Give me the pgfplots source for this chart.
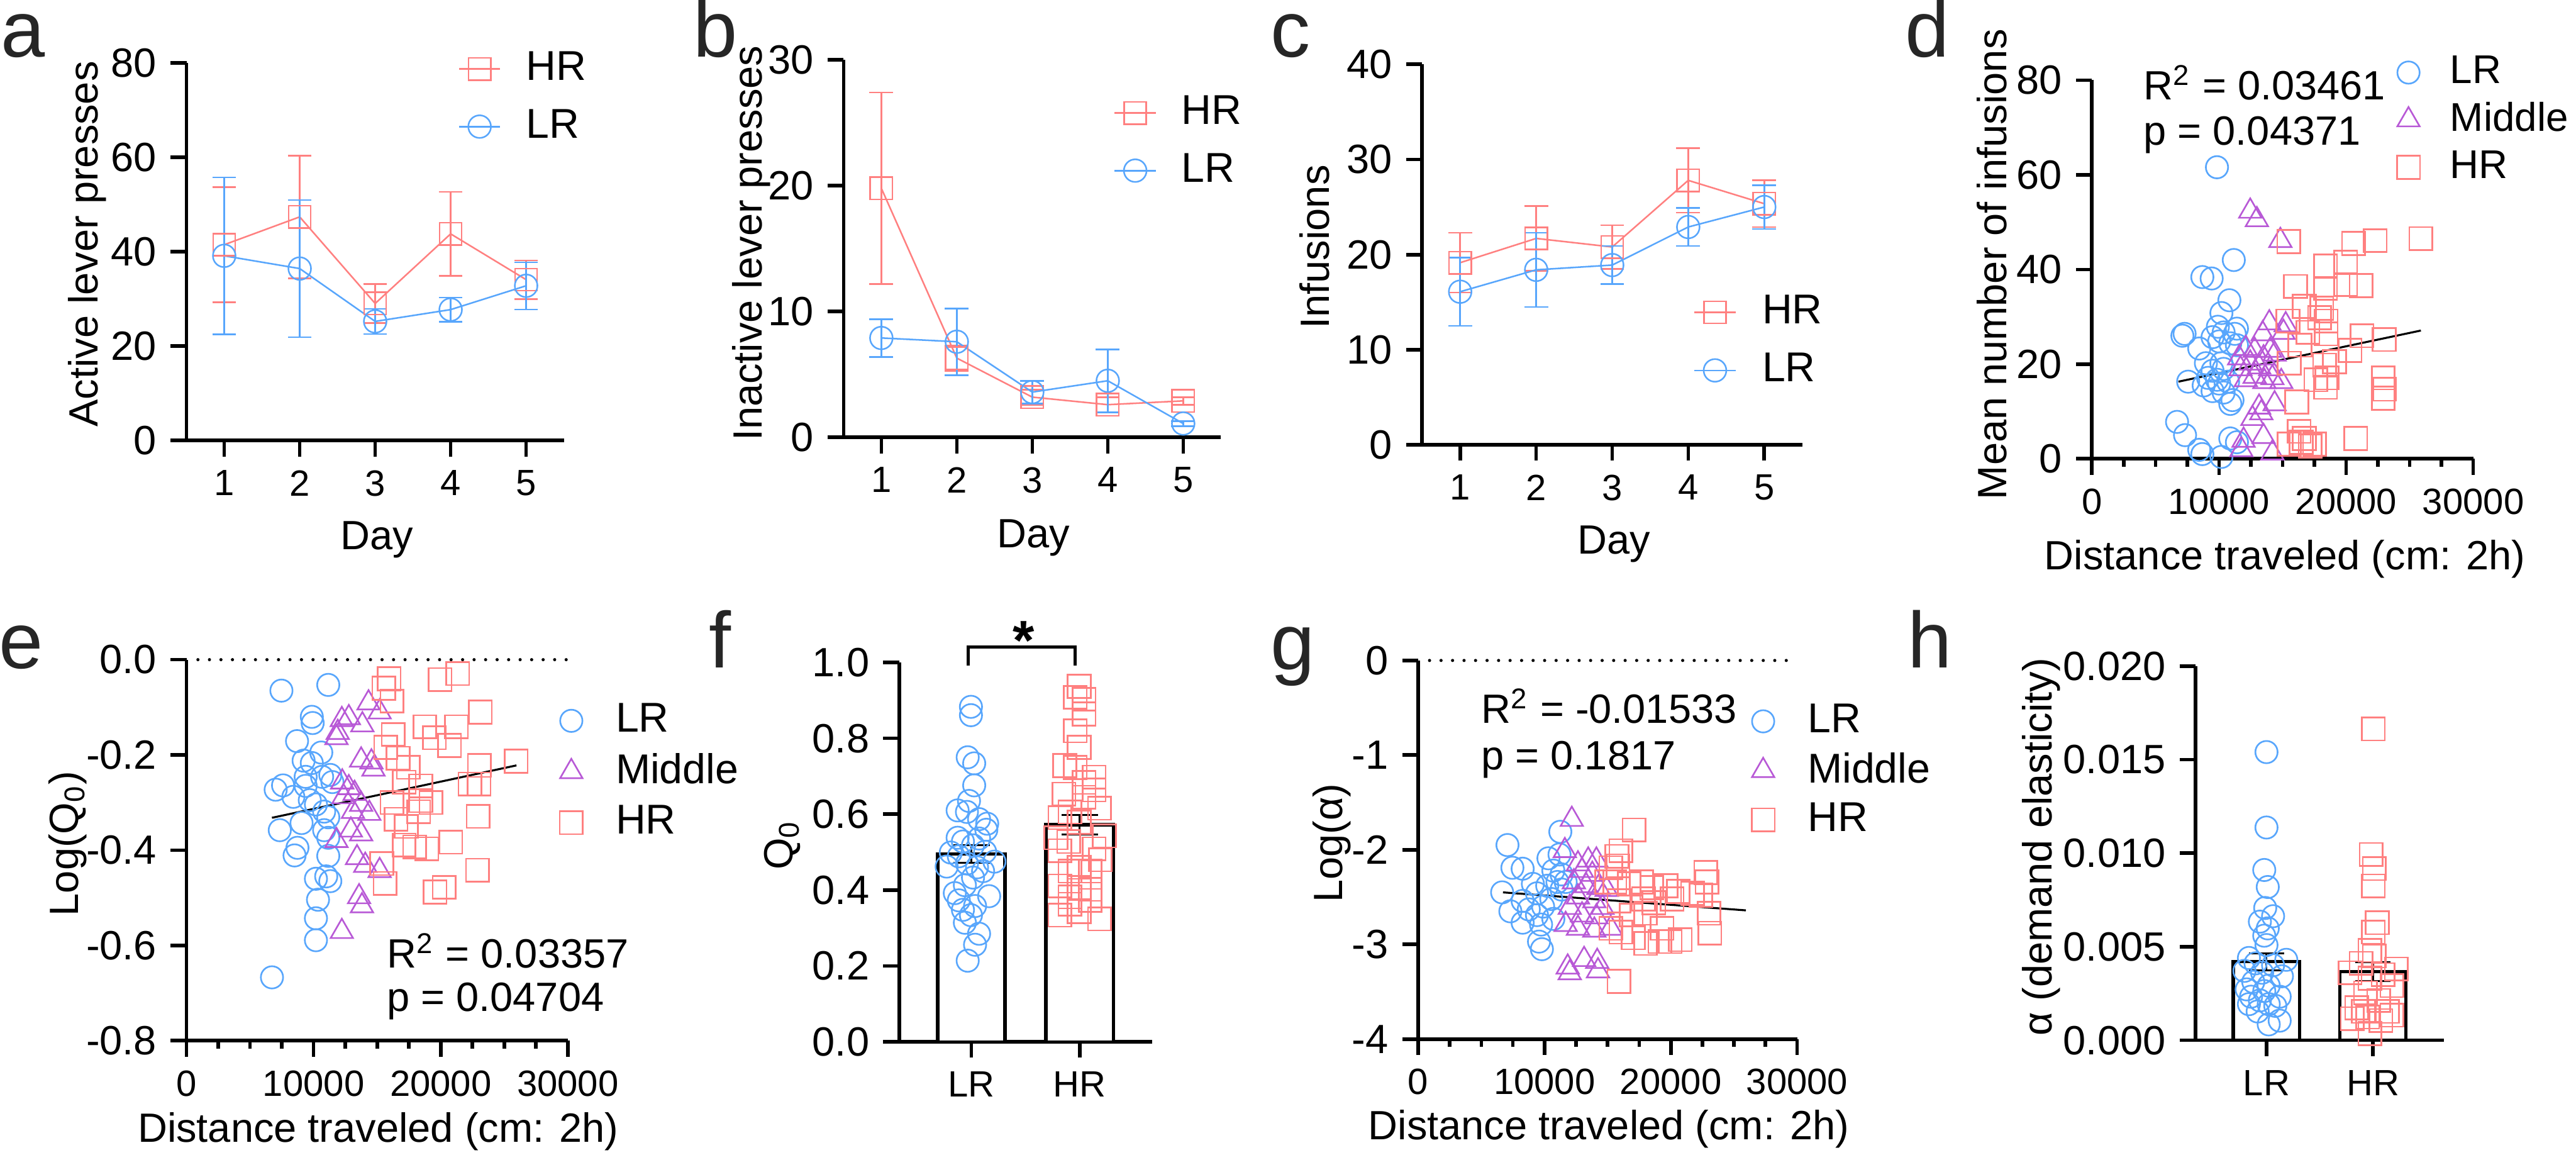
\documentclass[border=0pt]{standalone}
\usepackage{fontspec}
\setmainfont{Liberation Sans}
\usepackage{pgfplots}
\pgfplotsset{compat=1.18}

\definecolor{lrblue}{RGB}{88,166,252}
\definecolor{hrred}{RGB}{255,128,128}
\definecolor{midpurple}{RGB}{184,89,214}
\definecolor{lettergray}{RGB}{38,38,38}

\newcommand\tfont{\fontsize{10.3}{12}\selectfont}
\newcommand\xfont{\fontsize{9.2}{11}\selectfont}
\newcommand\lfont{\fontsize{20}{22}\selectfont}

\pgfplotsset{
  prism/.style={
    scale only axis, anchor=south west,
    axis lines=left,
    axis line style={-, line width=0.9pt, black},
    every tick/.style={black, line width=0.9pt},
    tick align=outside,
    major tick length=4pt, minor tick length=2pt,
    clip=false,
    scaled ticks=false,
    tick label style={font=\tfont},
    xticklabel style={font=\xfont},
    legend style={draw=none, fill=none, inner sep=0pt, outer sep=0pt,
      font=\fontsize{10.5}{12}\selectfont, nodes={inner sep=0pt}},
    legend cell align=left,
  },
  lineleg/.style={legend image code/.code={
    \draw[mark repeat=2,mark phase=2,##1] plot coordinates {(0pt,0pt) (5.2pt,0pt) (10.4pt,0pt)};}},
  scatleg/.style={legend image code/.code={\draw[##1] plot coordinates {(0pt,0pt)};}},
  hrline/.style={hrred, line width=0.4pt, mark=square, mark size=2.8pt,
    error bars/.cd, y dir=both, y explicit, error mark=-,
    error bar style={line width=0.4pt, hrred},
    error mark options={rotate=90, line width=0.4pt, mark size=3pt, hrred}},
  lrline/.style={lrblue, line width=0.4pt, mark=o, mark size=2.85pt,
    error bars/.cd, y dir=both, y explicit, error mark=-,
    error bar style={line width=0.4pt, lrblue},
    error mark options={rotate=90, line width=0.4pt, mark size=3pt, lrblue}},
  lrpt/.style={only marks, mark=o, mark size=2.8pt, lrblue, line width=0.42pt},
  midpt/.style={only marks, mark=triangle, mark size=3.25pt, midpurple, line width=0.42pt},
  hrpt/.style={only marks, mark=square, mark size=2.9pt, hrred, line width=0.42pt},
  distx/.style={xmin=0, xmax=30000, xtick={0,10000,20000,30000},
    xticklabels={0,10000,20000,30000}, minor x tick num=3},
  meanbar/.style={draw=none, mark=none, forget plot,
    error bars/.cd, y dir=both, y explicit, error mark=-,
    error bar style={draw=black, line width=0.5pt},
    error mark options={rotate=90, draw=black, line width=0.5pt, mark size=#1}},
  dotzero/.style={black, line width=0.8pt, dash pattern=on 0pt off 2.9pt, line cap=round, forget plot},
}

\begin{document}
\begin{tikzpicture}
\useasboundingbox (0,0) rectangle (649.2pt,290.9pt);

% a
\begin{axis}[prism, lineleg, at={(47pt,179.9pt)}, width=95.1pt, height=95.1pt,
  xmin=0.5, xmax=5.5, ymin=0, ymax=80,
  xtick={1,2,3,4,5}, xticklabels={1,2,3,4,5},
  ytick={0,20,40,60,80}, yticklabels={0,20,40,60,80},
  legend style={at={(axis description cs:0.720,0.908)}, anchor=west,
    row sep=5.8pt, column sep=6.3pt}]
\addplot[hrline] coordinates {(1,41.5) +- (0,12.2) (2,47.4) +- (0,13) (3,29.05) +- (0,4.15) (4,43.8) +- (0,8.9) (5,34.1) +- (0,4.1)};
\addlegendentry{HR}
\addplot[lrline] coordinates {(1,39.15) +- (0,16.65) (2,36.45) +- (0,14.55) (3,25.25) +- (0,2.65) (4,27.75) +- (0,2.55) (5,32.8) +- (0,5)};
\addlegendentry{LR}
\end{axis}

% b
\begin{axis}[prism, lineleg, at={(212.6pt,180.7pt)}, width=95.1pt, height=95.1pt,
  xmin=0.5, xmax=5.5, ymin=0, ymax=30,
  xtick={1,2,3,4,5}, xticklabels={1,2,3,4,5},
  ytick={0,10,20,30}, yticklabels={0,10,20,30},
  legend style={at={(axis description cs:0.716,0.783)}, anchor=west,
    row sep=5.8pt, column sep=6.3pt}]
\addplot[hrline] coordinates {(1,19.8) +- (0,7.6) (2,6.3) +- (0,1.0) (3,3.2) +- (0,0.6) (4,2.6) +- (0,0.6) (5,2.9) +- (0,0.3)};
\addlegendentry{HR}
\addplot[lrline] coordinates {(1,7.9) +- (0,1.5) (2,7.6) +- (0,2.65) (3,3.6) +- (0,0.9) (4,4.5) +- (0,2.5) (5,1.1) +- (0,0.2)};
\addlegendentry{LR}
\end{axis}

% c
\begin{axis}[prism, lineleg, at={(358.4pt,178.8pt)}, width=95.8pt, height=95.9pt,
  xmin=0.5, xmax=5.5, ymin=0, ymax=40,
  xtick={1,2,3,4,5}, xticklabels={1,2,3,4,5},
  ytick={0,10,20,30,40}, yticklabels={0,10,20,30,40},
  legend style={at={(axis description cs:0.714,0.272)}, anchor=west,
    row sep=5.9pt, column sep=6.5pt}]
\addplot[hrline] coordinates {(1,19.15) +- (0,3.15) (2,21.7) +- (0,3.4) (3,20.8) +- (0,2.3) (4,27.8) +- (0,3.4) (5,25.35) +- (0,2.45)};
\addlegendentry{HR}
\addplot[lrline] coordinates {(1,16.1) +- (0,3.6) (2,18.4) +- (0,3.9) (3,18.9) +- (0,2.0) (4,22.9) +- (0,2.0) (5,25.0) +- (0,2.3)};
\addlegendentry{LR}
\end{axis}

% d
\begin{axis}[prism, scatleg, distx, at={(527.2pt,175.3pt)}, width=96.1pt, height=95.4pt,
  ymin=0, ymax=80, ytick={0,20,40,60,80}, yticklabels={0,20,40,60,80},
  legend style={at={(axis description cs:0.800,0.895)}, anchor=west,
    font=\fontsize{10.1}{12}\selectfont, row sep=3.3pt, column sep=7.6pt}]
\addplot[lrpt] coordinates {(9836,61.6) (11160,42.0) (8685,38.4) (9418,38.1) (10813,33.5) (10185,30.8) (9906,27.9) (7290,26.4) (7116,26.0) (11406,27.5) (9488,25.7) (10360,26.7) (11232,26.4) (10011,24.8) (10883,24.4) (8441,23.3) (11406,24.0) (8964,20.2) (10185,20.2) (9488,18.6) (10360,19.0) (7569,16.3) (8790,15.5) (10011,15.9) (9139,17.1) (10709,16.3) (9488,14.3) (11058,12.4) (10883,11.6) (6697,7.8) (7325,5.0) (10883,4.3) (11406,3.5) (8441,1.9) (8685,1.0) (10185,0.4) (9836,16.7) (10360,14.0)};
\addlegendentry{LR}
\addplot[midpt] coordinates {(12452,52.3) (12975,50.5) (14824,46.1) (13952,28.7) (15242,28.3) (15068,26.7) (13429,26.4) (12103,23.3) (11580,21.3) (12801,22.9) (14022,22.9) (13498,21.3) (14370,22.1) (12452,20.2) (13150,19.4) (14022,19.0) (11685,19.0) (12801,17.4) (14196,17.1) (14893,16.3) (13568,16.3) (12103,16.7) (14370,11.6) (13150,10.9) (13324,9.7) (12626,8.5) (13498,4.7) (11929,3.9) (11755,1.9) (14196,1.2)};
\addlegendentry{Middle}
\addplot[hrpt] coordinates {(15487,45.9) (20580,45.5) (22289,46.1) (25880,46.5) (19951,41.5) (18382,40.7) (16010,36.4) (18382,36.0) (19951,36.8) (21172,36.6) (16708,32.2) (18080,31.8) (17905,29.8) (18428,29.1) (15416,29.1) (16986,26.7) (18428,26.4) (21241,26.0) (22986,25.2) (16359,24.0) (20301,22.9) (19080,20.5) (18312,19.8) (15521,20.2) (18486,17.1) (17614,16.7) (22917,17.1) (23021,14.7) (18382,15.1) (22917,12.8) (16115,12.0) (16289,5.8) (20754,4.3) (15521,3.1) (16464,3.5) (17161,2.7) (17510,3.1) (16708,4.3)};
\addlegendentry{HR}
\addplot[black, line width=0.5pt, forget plot] coordinates {(6802,16.3) (25880,27.1)};
\node[anchor=base west, font=\tfont] at (rel axis cs:0.099,0.949) {R\textsuperscript{2} = 0.03461};
\node[anchor=base west, font=\tfont] at (rel axis cs:0.099,0.829) {p = 0.04371};
\end{axis}

% e
\begin{axis}[prism, scatleg, distx, at={(47pt,28.7pt)}, width=96.1pt, height=96pt,
  ymin=-0.8, ymax=0, ytick={-0.8,-0.6,-0.4,-0.2,0}, yticklabels={-0.8,-0.6,-0.4,-0.2,0.0},
  legend style={at={(axis description cs:0.979,0.706)}, anchor=west,
    row sep=3.9pt, column sep=8.3pt}]
\addplot[dotzero] coordinates {(900,0) (30000,0)};
\addplot[lrpt] coordinates {(7468,-0.065) (11154,-0.053) (9860,-0.120) (9925,-0.133) (8697,-0.171) (10604,-0.195) (9214,-0.212) (9860,-0.217) (9375,-0.246) (10669,-0.246) (11315,-0.242) (7016,-0.273) (7597,-0.264) (9375,-0.265) (8406,-0.288) (11477,-0.257) (9699,-0.295) (10184,-0.304) (10830,-0.319) (11154,-0.331) (9052,-0.343) (7339,-0.358) (10830,-0.358) (11154,-0.374) (8729,-0.395) (8503,-0.411) (11154,-0.412) (10184,-0.460) (10992,-0.455) (11315,-0.465) (10346,-0.504) (10184,-0.543) (10184,-0.589) (6725,-0.667)};
\addlegendentry{LR}
\addplot[midpt] coordinates {(14322,-0.091) (15195,-0.110) (12221,-0.126) (12771,-0.122) (13837,-0.137) (11898,-0.153) (11800,-0.164) (13740,-0.211) (14548,-0.215) (14710,-0.230) (12254,-0.257) (12771,-0.269) (13224,-0.281) (12351,-0.288) (13740,-0.304) (13093,-0.319) (14387,-0.323) (12932,-0.358) (13740,-0.366) (11800,-0.380) (13416,-0.416) (14063,-0.432) (15195,-0.443) (13579,-0.498) (13805,-0.517) (12221,-0.571)};
\addlegendentry{Middle}
\addplot[hrpt] coordinates {(15939,-0.040) (15519,-0.060) (16166,-0.087) (19948,-0.042) (21339,-0.029) (23116,-0.110) (18751,-0.141) (21241,-0.141) (16262,-0.157) (19495,-0.164) (20691,-0.180) (15681,-0.184) (16650,-0.207) (17458,-0.226) (23051,-0.222) (25928,-0.213) (17134,-0.257) (18428,-0.265) (22307,-0.261) (23019,-0.261) (19236,-0.300) (18428,-0.296) (16166,-0.300) (18266,-0.319) (16488,-0.335) (17296,-0.350) (22954,-0.329) (17134,-0.389) (17943,-0.393) (18913,-0.397) (20788,-0.383) (15357,-0.428) (15616,-0.470) (22889,-0.442) (19560,-0.488) (20271,-0.478)};
\addlegendentry{HR}
\addplot[black, line width=0.5pt, forget plot] coordinates {(6725,-0.332) (25960,-0.222)};
\node[anchor=base west, font=\tfont] at (rel axis cs:0.489,0.192) {R\textsuperscript{2} = 0.03357};
\node[anchor=base west, font=\tfont] at (rel axis cs:0.489,0.077) {p = 0.04704};
\end{axis}

% f
\begin{axis}[prism, at={(226.6pt,28.4pt)}, width=63.7pt, height=95.6pt,
  xmin=-0.6667, xmax=1.6667, ymin=0, ymax=1,
  xtick={0,1}, xticklabels={LR,HR},
  ytick={0,0.2,0.4,0.6,0.8,1}, yticklabels={0.0,0.2,0.4,0.6,0.8,1.0}]
\addplot[ybar, bar width=17pt, fill=white, draw=black, line width=0.85pt, forget plot] coordinates {(0,0.495) (1,0.572)};
\addplot[lrpt, forget plot] coordinates {(-0.004,0.883) (-0.004,0.861) (-0.034,0.750) (0.026,0.734) (0.026,0.676) (-0.022,0.635) (-0.127,0.610) (-0.041,0.606) (0.071,0.587) (0.146,0.575) (0.138,0.559) (-0.127,0.538) (-0.078,0.528) (0.071,0.536) (0.015,0.518) (0.127,0.501) (-0.190,0.499) (-0.116,0.489) (0.213,0.475) (-0.228,0.462) (-0.041,0.470) (0.052,0.460) (0.108,0.450) (0.015,0.433) (-0.060,0.413) (-0.153,0.392) (0.164,0.384) (-0.116,0.373) (0.034,0.358) (-0.078,0.348) (-0.004,0.334) (-0.060,0.314) (0.071,0.285) (0.034,0.256) (-0.034,0.214)};
\addplot[hrpt, forget plot] coordinates {(0.996,0.937) (0.959,0.908) (1.041,0.903) (1.041,0.864) (0.959,0.820) (0.996,0.776) (0.862,0.728) (0.959,0.723) (1.134,0.698) (1.041,0.684) (1.134,0.664) (0.854,0.653) (1.041,0.645) (1.183,0.616) (0.910,0.606) (0.817,0.591) (0.996,0.579) (1.228,0.543) (0.780,0.538) (0.899,0.528) (1.134,0.509) (0.817,0.504) (1.190,0.480) (0.996,0.460) (0.910,0.450) (1.097,0.450) (0.817,0.411) (0.996,0.407) (1.097,0.402) (0.910,0.382) (1.097,0.373) (0.817,0.334) (0.996,0.343) (1.183,0.324) (0.910,0.363)};
\addplot[meanbar=4.6pt] coordinates {(0,0.495) +- (0,0.023) (1,0.572) +- (0,0.026)};
\draw[line width=0.8pt] (axis cs:-0.03,0.991) -- (axis cs:-0.03,1.04) -- (axis cs:0.956,1.04) -- (axis cs:0.956,0.991);
\node[anchor=base, font=\fontsize{14}{14}\selectfont\bfseries, inner sep=0pt] at (axis cs:0.483,1.007) {*};
\end{axis}

% g
\begin{axis}[prism, scatleg, distx, at={(357.4pt,29.1pt)}, width=95.5pt, height=95.4pt,
  ymin=-4, ymax=0, ytick={-4,-3,-2,-1,0}, yticklabels={-4,-3,-2,-1,0},
  legend style={at={(axis description cs:0.880,0.709)}, anchor=west,
    row sep=3.5pt, column sep=8.3pt}]
\addplot[dotzero] coordinates {(900,0) (30000,0)};
\addplot[lrpt] coordinates {(7070,-1.95) (11253,-1.81) (7459,-2.19) (8270,-2.20) (10313,-2.09) (11189,-2.05) (10702,-2.22) (11351,-2.26) (6648,-2.45) (9081,-2.36) (10216,-2.38) (11027,-2.34) (11675,-2.34) (9405,-2.46) (10540,-2.52) (8270,-2.54) (7297,-2.65) (8756,-2.63) (9891,-2.60) (9405,-2.69) (10702,-2.73) (8270,-2.77) (9729,-2.79) (9567,-2.97) (9794,-3.05) (11351,-2.42)};
\addlegendentry{LR}
\addplot[midpt] coordinates {(12162,-1.68) (11610,-2.01) (12649,-2.15) (13460,-2.11) (14109,-2.11) (12973,-2.22) (13784,-2.26) (12324,-2.34) (13298,-2.38) (14271,-2.40) (14919,-2.42) (12649,-2.50) (13946,-2.54) (14595,-2.61) (12000,-2.61) (12973,-2.69) (14109,-2.71) (11675,-2.79) (12649,-2.83) (13946,-2.85) (15243,-2.83) (11837,-3.24) (12000,-3.30) (13136,-3.16) (14173,-3.18) (14238,-3.28)};
\addlegendentry{Middle}
\addplot[hrpt] coordinates {(17091,-1.79) (16053,-2.01) (15729,-2.07) (15243,-2.19) (15827,-2.17) (14919,-2.34) (15567,-2.34) (16702,-2.36) (17675,-2.34) (18486,-2.40) (19621,-2.38) (20594,-2.44) (21729,-2.46) (22765,-2.24) (22864,-2.34) (22378,-2.48) (17837,-2.52) (18648,-2.56) (20108,-2.52) (23027,-2.67) (23091,-2.88) (15892,-2.54) (16864,-2.69) (18000,-2.67) (19297,-2.83) (20756,-2.95) (19945,-2.97) (15243,-2.83) (16053,-2.87) (17027,-2.93) (18000,-2.99) (19134,-2.97) (15891,-3.39)};
\addlegendentry{HR}
\addplot[black, line width=0.5pt, forget plot] coordinates {(6713,-2.45) (25944,-2.64)};
\node[anchor=base west, font=\tfont] at (rel axis cs:0.130,0.834) {R\textsuperscript{2} = -0.01533};
\node[anchor=base west, font=\tfont] at (rel axis cs:0.130,0.712) {p = 0.1817};
\end{axis}

% h
\begin{axis}[prism, at={(553.3pt,28.8pt)}, width=62.6pt, height=94.3pt,
  xmin=-0.6667, xmax=1.6667, ymin=0, ymax=0.02,
  xtick={0,1}, xticklabels={LR,HR},
  ytick={0,0.005,0.01,0.015,0.02}, yticklabels={0.000,0.005,0.010,0.015,0.020}]
\addplot[ybar, bar width=16.7pt, fill=white, draw=black, line width=0.85pt, forget plot] coordinates {(0,0.0042) (1,0.00367)};
\addplot[lrpt, forget plot] coordinates {(0,0.01540) (0,0.01137) (-0.021,0.00910) (0.012,0.00819) (-0.012,0.00707) (0.062,0.00663) (-0.062,0.00634) (0.012,0.00598) (-0.021,0.00559) (0,0.00509) (-0.165,0.00440) (0.186,0.00430) (-0.103,0.00411) (0.062,0.00401) (-0.207,0.00371) (-0.041,0.00361) (0.145,0.00342) (-0.124,0.00312) (0.021,0.00292) (0.124,0.00233) (-0.145,0.00233) (-0.062,0.00213) (0.021,0.00193) (-0.165,0.00193) (0.083,0.00184) (-0.083,0.00154) (0.124,0.00105) (0.021,0.00085) (-0.021,0.00263) (-0.186,0.00272)};
\addplot[hrpt, forget plot] coordinates {(1.004,0.01664) (0.983,0.00993) (1.012,0.00918) (1.004,0.00825) (1.041,0.00628) (1.004,0.00578) (0.971,0.00480) (1.012,0.00450) (0.888,0.00411) (1.219,0.00381) (0.785,0.00361) (1.095,0.00351) (0.971,0.00332) (1.178,0.00292) (0.930,0.00253) (1.054,0.00213) (0.847,0.00174) (1.178,0.00134) (0.950,0.00124) (0.806,0.00115) (1.074,0.00105) (0.971,0.00036) (1.136,0.00154) (0.909,0.00154)};
\addplot[meanbar=4.45pt] coordinates {(0,0.0042) +- (0,0.00045) (1,0.00367) +- (0,0.0005)};
\end{axis}

% axis titles and panel letters, in reference pixel units
\begin{scope}[x=0.1pt, y=-0.1pt, shift={(0,290.9pt)}, font=\tfont]
\node[rotate=90, inner sep=0pt] at (220,615) {Active lever presses};
\node[inner sep=0pt] at (950,1360) {Day};
\node[rotate=90, inner sep=0pt] at (1893,613) {Inactive lever presses};
\node[inner sep=0pt] at (2605,1355) {Day};
\node[rotate=90, inner sep=0pt] at (3312,622) {Infusions};
\node[inner sep=0pt] at (4067,1371) {Day};
\node[rotate=90, inner sep=0pt] at (5019,666) {Mean number of infusions};
\node[inner sep=0pt] at (5758,1408) {Distance traveled (cm: 2h)};
\node[rotate=90, inner sep=0pt] at (170,2125) {Log(Q\textsubscript{0})};
\node[inner sep=0pt] at (953,2851) {Distance traveled (cm: 2h)};
\node[rotate=90, inner sep=0pt] at (1972,2129) {Q\textsubscript{0}};
\node[rotate=90, inner sep=0pt] at (3356,2124) {Log(α)};
\node[inner sep=0pt] at (4054,2844) {Distance traveled (cm: 2h)};
\node[rotate=90, inner sep=0pt] at (5144,2134) {α (demand elasticity)};
\begin{scope}[every node/.style={anchor=base west, inner sep=0pt, font=\lfont, text=lettergray}]
\node at (0,143) {a};
\node at (1745,143) {b};
\node at (3200,143) {c};
\node at (4800,143) {d};
\node at (-5,1684) {e};
\node at (1785,1683) {f};
\node at (3200,1687) {g};
\node at (4805,1683) {h};
\end{scope}
\end{scope}
\end{tikzpicture}
\end{document}
